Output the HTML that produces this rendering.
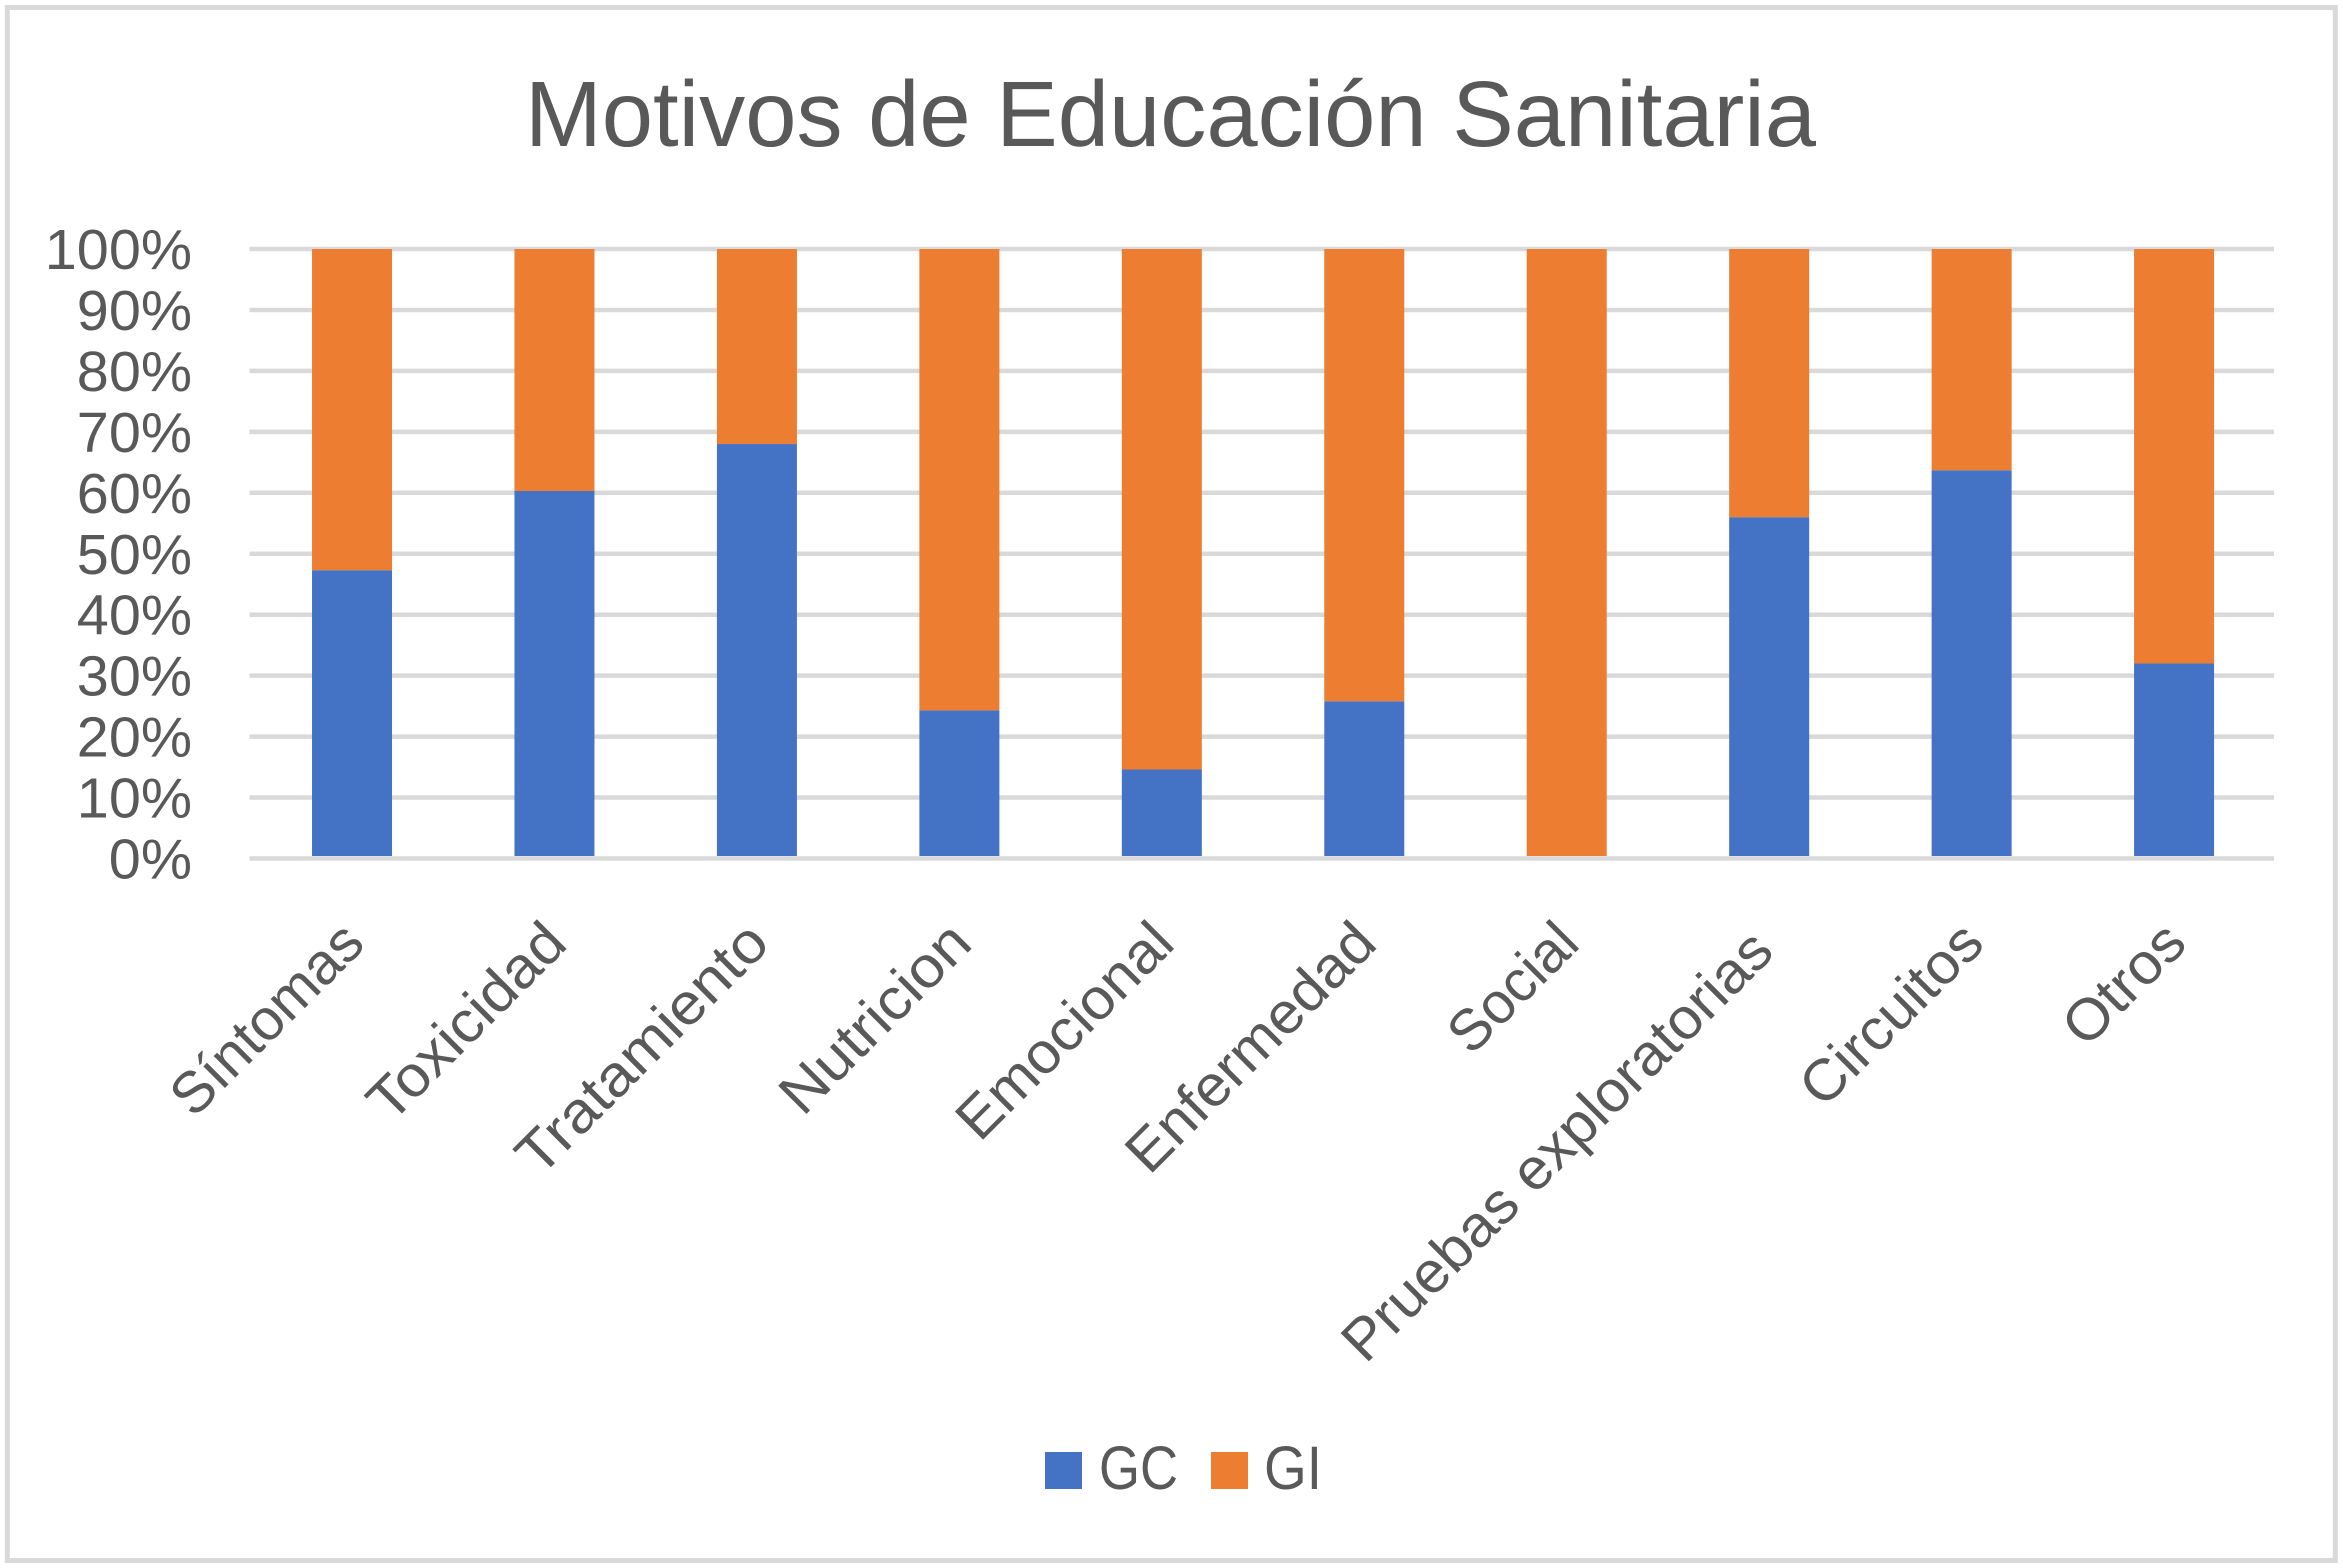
<!DOCTYPE html>
<html lang="es">
<head>
<meta charset="utf-8">
<title>Motivos de Educación Sanitaria</title>
<style>
html,body{margin:0;padding:0;background:#fff;}
svg{display:block;}
text{font-family:"Liberation Sans",sans-serif;fill:#595959;}
</style>
</head>
<body>
<svg id="chart" xmlns="http://www.w3.org/2000/svg" width="2343" height="1568" viewBox="0 0 2343 1568">
  <rect x="0" y="0" width="2343" height="1568" fill="#ffffff"/>
  <rect x="7.25" y="7.5" width="2328" height="1553" fill="none" stroke="#d9d9d9" stroke-width="5"/>
  <text x="525" y="146" font-size="93" textLength="1291" lengthAdjust="spacingAndGlyphs">Motivos de Educación Sanitaria</text>
  <g id="grid"></g>
  <g id="yticks"></g>
  <g id="bars"></g>
  <g id="xticks"></g>
  <g>
    <g>
      <rect x="1045" y="1452" width="37" height="37" fill="#4472c4"/>
      <text x="1099" y="1489" font-size="61" textLength="79" lengthAdjust="spacingAndGlyphs">GC</text>
    </g>
    <g>
      <rect x="1211" y="1452" width="37" height="37" fill="#ed7d31"/>
      <text x="1264" y="1489" font-size="61" textLength="58" lengthAdjust="spacingAndGlyphs">GI</text>
    </g>
  </g>
</svg>
<script>
const categories = ["Síntomas","Toxicidad","Tratamiento","Nutricion","Emocional","Enfermedad","Social","Pruebas exploratorias","Circuitos","Otros"];
const gcValues = [47.3,60.3,68.0,24.3,14.6,25.8,0,56.0,63.7,32.0];
const giValues = [52.7,39.7,32.0,75.7,85.4,74.2,100,44.0,36.3,68.0];
const yTickValues = [0,10,20,30,40,50,60,70,80,90,100];
const yTickLabels = ["0%","10%","20%","30%","40%","50%","60%","70%","80%","90%","100%"];

const NS = "http://www.w3.org/2000/svg";
const plotLeft = 249.5, plotRight = 2274, plotBottom = 858.5, plotTop = 249;
const yMax = 100, barWidth = 80, barFloorGap = 2.5, barShift = 1.3;
/* Liberation-to-Calibri glyph width compensation, by label text */
const labelStretch = {"Toxicidad":1.045,"Tratamiento":1.07,"Nutricion":1.06,"Emocional":1.03,"Enfermedad":1.03,"Social":0.99,"Pruebas exploratorias":1.03,"Circuitos":1.025,"Otros":1.03};

function yScale(v){ return plotBottom - (v / yMax) * (plotBottom - plotTop); }
function xCenter(i){ return plotLeft + (plotRight - plotLeft) * (i + 0.5) / categories.length + barShift; }
function make(tag, attrs, parent){
  const el = document.createElementNS(NS, tag);
  for (const k in attrs) el.setAttribute(k, attrs[k]);
  parent.appendChild(el);
  return el;
}

const gridG = document.getElementById("grid");
const yG = document.getElementById("yticks");
const barG = document.getElementById("bars");
const xG = document.getElementById("xticks");

yTickValues.forEach(function(t, i){
  const line = make("line", {x1: plotLeft, x2: plotRight, y1: yScale(t), y2: yScale(t), stroke: "#d9d9d9", "stroke-width": 4.5}, gridG);
  
  
  const label = make("text", {transform: "translate(192," + (yScale(t) + 20) + ") scale(1.01,1)", "text-anchor": "end", "font-size": 57}, yG);
  
  
  label.textContent = yTickLabels[i];
});

categories.forEach(function(name, i){
  const cx = xCenter(i);
  const floor = yScale(0) - barFloorGap;
  const gcTop = yScale(gcValues[i]);
  const giTop = yScale(gcValues[i] + giValues[i]);
  const gc = make("rect", {x: cx - barWidth / 2, y: gcTop, width: barWidth, height: Math.max(0, floor - gcTop), fill: "#4472c4"}, barG);
  
  
  const giBottom = gcValues[i] > 0 ? gcTop : floor;
  const gi = make("rect", {x: cx - barWidth / 2, y: giTop, width: barWidth, height: Math.max(0, giBottom - giTop), fill: "#ed7d31"}, barG);
  
  
  const stretch = labelStretch[name] || 1;
  const long = name.length > 15 ? 1 : 0;
  const ax = cx + 15 - long * 8;
  const ay = 946 + long * 8;
  const label = make("text", {transform: "translate(" + ax + "," + ay + ") rotate(-45) scale(" + stretch + ",1)", "text-anchor": "end", "font-size": 58}, xG);
  
  
  label.textContent = name;
});
</script>
</body>
</html>
